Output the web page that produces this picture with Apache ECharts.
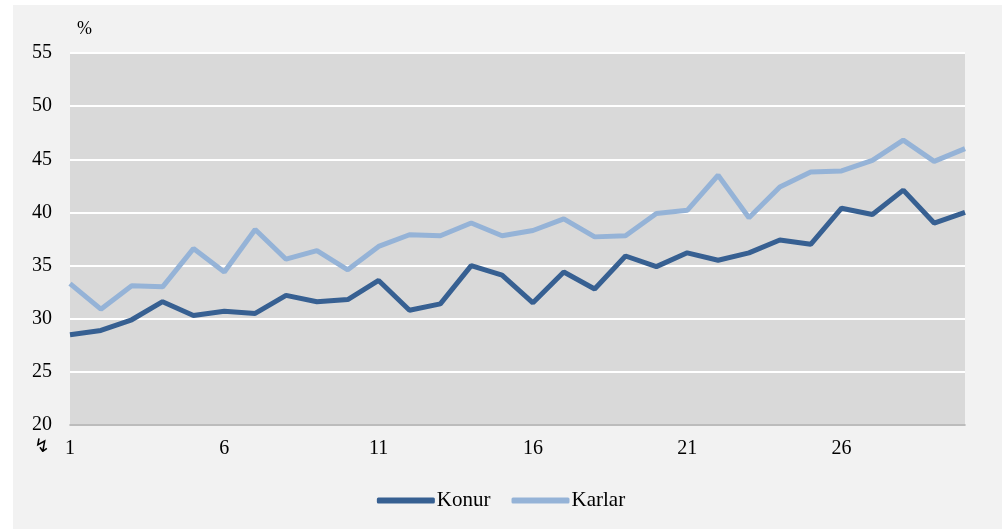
<!DOCTYPE html>
<html>
<head>
<meta charset="utf-8">
<script src="https://cdn.jsdelivr.net/npm/echarts@6/dist/echarts.min.js"></script>
<style>
html,body{margin:0;padding:0;background:#ffffff;}
#c{width:1002px;height:529px;}
</style>
</head>
<body>
<div id="c"></div>
<script>
const categories = ['1','2','3','4','5','6','7','8','9','10','11','12','13','14','15','16','17','18','19','20','21','22','23','24','25','26','27','28','29','30'];
const konur = [28.5,28.9,29.9,31.6,30.3,30.7,30.5,32.2,31.6,31.8,33.6,30.8,31.4,35.0,34.1,31.5,34.4,32.8,35.9,34.9,36.2,35.5,36.2,37.4,37.0,40.4,39.8,42.1,39.0,40.0];
const karlar = [33.3,30.9,33.1,33.0,36.6,34.4,38.4,35.6,36.4,34.6,36.8,37.9,37.8,39.0,37.8,38.3,39.4,37.7,37.8,39.9,40.2,43.5,39.5,42.4,43.8,43.9,44.9,46.8,44.8,46.0];
const yTicks = {min:20, max:55, interval:5};

const serif = '"Liberation Serif","Times New Roman",serif';
const chart = echarts.init(document.getElementById('c'), null, {renderer:'canvas'});
chart.setOption({
  animation:false,
  backgroundColor:'#ffffff',
  graphic:[
    {type:'rect', z:-10, shape:{x:13,y:5,width:989,height:524}, style:{fill:'#f2f2f2'}, silent:true},
    {type:'text', left:77, top:20, style:{text:'%', font:'18px '+serif, fill:'#000'}},
    {type:'text', left:34, top:438, style:{text:'↯', font:'19px "DejaVu Sans"', fill:'#000'}}
  ],
  grid:{left:70, right:37, top:53, bottom:104, show:true, backgroundColor:'#d9d9d9', borderWidth:0},
  legend:{
    data:['Konur','Karlar'],
    top:485, left:'center',
    icon:'roundRect', itemWidth:58, itemHeight:6, itemGap:21,
    textStyle:{fontFamily:serif, fontSize:21, color:'#000', padding:[0,0,0,-3]}
  },
  xAxis:{
    type:'category', data:categories, boundaryGap:false,
    axisLine:{show:true, lineStyle:{color:'#a6a6a6', width:1.5}},
    axisTick:{show:false},
    axisLabel:{interval:4, fontFamily:serif, fontSize:20, color:'#000', margin:14},
    splitLine:{show:false}
  },
  yAxis:{
    type:'value', min:yTicks.min, max:yTicks.max, interval:yTicks.interval,
    axisLine:{show:false}, axisTick:{show:false},
    axisLabel:{fontFamily:serif, fontSize:20, color:'#000', margin:18, padding:[3,0,0,0]},
    splitLine:{show:true, lineStyle:{color:'#ffffff', width:2}}
  },
  series:[
    {name:'Konur', type:'line', data:konur, showSymbol:false, symbol:'none',
     lineStyle:{color:'#376092', width:5}, itemStyle:{color:'#376092'}},
    {name:'Karlar', type:'line', data:karlar, showSymbol:false, symbol:'none',
     lineStyle:{color:'#95b3d7', width:5}, itemStyle:{color:'#95b3d7'}}
  ]
});
</script>
</body>
</html>
